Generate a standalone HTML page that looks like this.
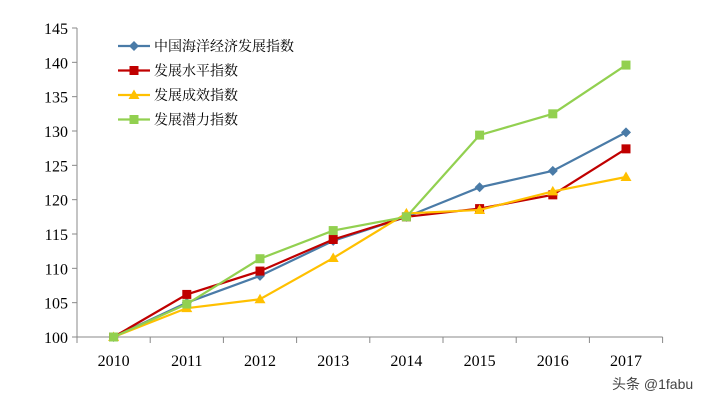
<!DOCTYPE html>
<html><head><meta charset="utf-8"><style>
body{margin:0;background:#fff;}
svg text{font-family:"Liberation Serif","Noto Serif CJK SC",serif;}
</style></head><body>
<svg id="chart" width="702" height="403" xmlns="http://www.w3.org/2000/svg">
<rect width="702" height="403" fill="#fff"/>
<g id="axes"></g><g id="series"></g><g id="legend"></g>
<text x="612" y="389" font-size="14" fill="#444" style="font-family:'Liberation Sans','Noto Sans CJK SC',sans-serif">头条 @1fabu</text>
</svg>
<script>
const categories=["2010","2011","2012","2013","2014","2015","2016","2017"];
const yTicks=[100,105,110,115,120,125,130,135,140,145];
const seriesNames=["中国海洋经济发展指数","发展水平指数","发展成效指数","发展潜力指数"];
const blueVals=[100,105,108.9,114.0,117.5,121.8,124.2,129.8];
const redVals=[100,106.2,109.6,114.2,117.5,118.7,120.7,127.4];
const yellowVals=[100,104.2,105.5,111.5,118.0,118.5,121.2,123.3];
const greenVals=[100,104.8,111.4,115.5,117.5,129.4,132.5,139.6];
const colors=["#4a7ba7","#c00000","#ffc000","#92d050"];
const markers=["diamond","square","triangle","square"];
const ns="http://www.w3.org/2000/svg";
const x0=77,step=73.2,yB=337,yT=28;
const xs=i=>x0+step*(i+0.5);
const ys=v=>yB-(v-100)/45*(yB-yT);
function mk(t,a,p){const e=document.createElementNS(ns,t);for(const k in a)e.setAttribute(k,a[k]);p.appendChild(e);return e;}
const axes=document.getElementById('axes');
const ya=mk('line',{x1:x0,y1:yT,x2:x0,y2:yB,stroke:'#888'},axes);


const xa=mk('line',{x1:x0,y1:yB,x2:x0+step*8,y2:yB,stroke:'#888'},axes);


yTicks.forEach(v=>{
 mk('line',{x1:x0-5,y1:ys(v),x2:x0,y2:ys(v),stroke:'#888'},axes);
 const t=mk('text',{x:x0-9,y:ys(v)+6,'text-anchor':'end','font-size':16,fill:'#000'},axes);
 t.textContent=v;
 
 
});
for(let i=0;i<=8;i++)mk('line',{x1:x0+step*i,y1:yB,x2:x0+step*i,y2:yB+6,stroke:'#888'},axes);
categories.forEach((c,i)=>{
 const t=mk('text',{x:xs(i),y:yB+29,'text-anchor':'middle','font-size':16,fill:'#000'},axes);
 t.textContent=c;
 
 
});
function marker(g,type,x,y,c){
 if(type==='diamond')return mk('polygon',{points:`${x},${y-5} ${x+5},${y} ${x},${y+5} ${x-5},${y}`,fill:c},g);
 if(type==='square')return mk('rect',{x:x-4.5,y:y-4.5,width:9,height:9,fill:c},g);
 return mk('polygon',{points:`${x},${y-5.5} ${x+5.5},${y+4} ${x-5.5},${y+4}`,fill:c},g);
}
const sg=document.getElementById('series');
[blueVals,redVals,yellowVals,greenVals].forEach((vals,s)=>{
 const g=mk('g',{},sg);
 
 
 const l=mk('polyline',{points:vals.map((v,i)=>xs(i)+','+ys(v)).join(' '),fill:'none',stroke:colors[s],'stroke-width':2.2},g);
 
 
 vals.forEach((v,i)=>{const m=marker(g,markers[s],xs(i),ys(v),colors[s]);
  
  });
});
const lg=document.getElementById('legend');
seriesNames.forEach((n,s)=>{
 const y=46+s*24.5;
 const g=mk('g',{},lg);
 
 
 mk('line',{x1:118,y1:y,x2:150,y2:y,stroke:colors[s],'stroke-width':2.2},g);
 marker(g,markers[s],134,y,colors[s]);
 const t=mk('text',{x:154,y:y+5,'font-size':14,fill:'#000'},g);
 t.textContent=n;
});
</script>
</body></html>
